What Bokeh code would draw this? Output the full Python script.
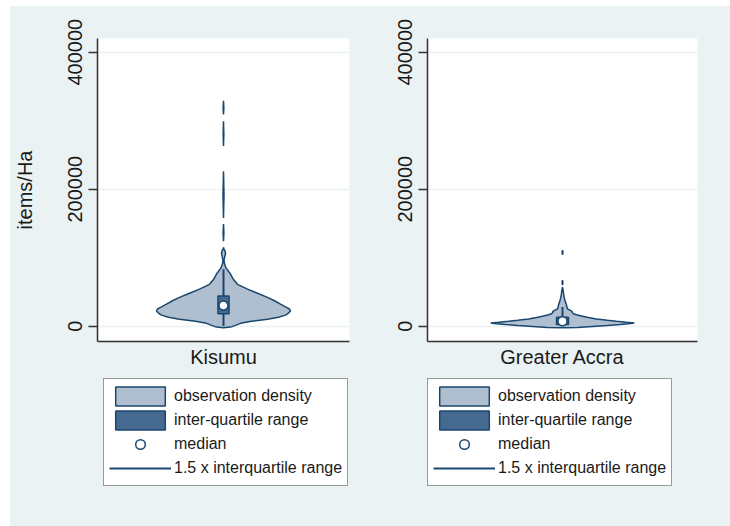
from bokeh.plotting import figure
from bokeh.models import FixedTicker, Legend, LegendItem
from bokeh.layouts import row, column
from bokeh.embed import file_html
from bokeh.resources import INLINE

# ---------------- data ----------------
categories = ["Kisumu", "Greater Accra"]
y_ticks = [0, 200000, 400000]
y_tick_labels = ["0", "200000", "400000"]
y_title = "items/Ha"
legend_labels = ["observation density", "inter-quartile range", "median",
                 "1.5 x interquartile range"]

# estimated kernel density outline (value, relative density)
kisumu_vals = [-2500, -1500, 1000, 4000, 7000, 10000, 13000, 16000, 19000, 22000,
               25000, 28000, 32000, 37000, 42000, 48000, 54000, 61000, 68000,
               76000, 85000, 91000, 96000, 101000, 106000, 110000, 113000, 115000]
kisumu_dens = [0, 7, 12, 17, 28, 44, 55, 62, 65, 67,
               66, 62, 57, 51, 44, 34, 24, 14, 10,
               7, 2.5, 1, 0.5, 1.2, 2, 1.4, 0.4, 0]
kisumu_tail_lo = [124000, 158000, 263000, 309000]
kisumu_tail_hi = [149000, 226000, 299000, 329000]
kisumu_tail_dens = [0.4, 0.5, 0.35, 0.35]

accra_vals = [-2500, -2000, -500, 1000, 2500, 3500, 4500, 5500, 7000, 8500,
              10500, 12500, 14500, 16500, 18000, 19500, 21500, 23000, 24500,
              27000, 31000, 35000, 40000, 46000, 52000, 57000]
accra_dens = [0, 15, 30, 45, 58, 66, 72, 64, 54, 45,
              34, 26, 20, 14, 11, 10, 9.5, 8, 5.5,
              4.5, 4, 3, 2, 1.2, 0.7, 0]
accra_tail_lo = [60000, 104000]
accra_tail_hi = [67000, 111000]
accra_tail_dens = [0.4, 0.4]

q1 = [18000, 2500]
q3 = [44000, 13000]
medians = [30000, 7000]
whisk_lo = [0, 0]
whisk_hi = [83000, 28000]

# ---------------- style ----------------
BG = "#eaf2f3"
NAVY = "#1a476f"
LIGHT = "#afbfcf"
DARK = "#466a8f"
AXIS = "#333333"
FONT = "Liberation Sans"
TXT = "#1a1a1a"
HALF = 0.266
BOXW = 0.022
CX = 0.5


def violin_poly(vals, dens):
    m = max(dens)
    xs = [CX + d / m * HALF for d in dens] + [CX - d / m * HALF for d in reversed(dens)]
    ys = list(vals) + list(reversed(vals))
    return xs, ys, m


def make_plot(i, vals, dens, tlo, thi, tden, width, left, right, show_title):
    p = figure(width=width, height=366, x_range=(0, 1), y_range=(-22500, 420000),
               output_backend="svg", toolbar_location=None,
               min_border_left=left, min_border_right=right,
               min_border_top=32, min_border_bottom=31,
               background_fill_color="white", border_fill_color=BG,
               outline_line_color=None)
    p.xgrid.visible = False
    p.ygrid.ticker = FixedTicker(ticks=y_ticks)
    p.ygrid.grid_line_color = BG
    p.ygrid.grid_line_width = 1.5

    ya = p.yaxis[0]
    ya.ticker = FixedTicker(ticks=y_ticks)
    ya.major_label_overrides = {t: l for t, l in zip(y_ticks, y_tick_labels)}
    ya.major_label_orientation = "vertical"
    ya.major_tick_out = 9
    ya.major_tick_in = 0
    ya.minor_tick_out = 0
    ya.minor_tick_in = 0
    ya.major_label_standoff = 6
    ya.major_label_text_font = FONT
    ya.major_label_text_font_size = "20px"
    ya.major_label_text_color = TXT
    ya.axis_line_color = AXIS
    ya.axis_line_width = 1.5
    ya.major_tick_line_color = AXIS
    ya.major_tick_line_width = 1.5
    if show_title:
        ya.axis_label = y_title
        ya.axis_label_text_font = FONT
        ya.axis_label_text_font_size = "20px"
        ya.axis_label_text_font_style = "normal"
        ya.axis_label_text_color = TXT
        ya.axis_label_standoff = 30

    xa = p.xaxis[0]
    xa.ticker = FixedTicker(ticks=[CX])
    xa.major_label_overrides = {CX: categories[i]}
    xa.major_tick_out = 0
    xa.major_tick_in = 0
    xa.minor_tick_out = 0
    xa.minor_tick_in = 0
    xa.major_label_standoff = 4
    xa.major_label_text_font = FONT
    xa.major_label_text_font_size = "20px"
    xa.major_label_text_color = TXT
    xa.axis_line_color = AXIS
    xa.axis_line_width = 1.5

    xs, ys, m = violin_poly(vals, dens)
    p.patch(xs, ys, fill_color=LIGHT, line_color=NAVY, line_width=1.5)
    txs, tys = [], []
    for lo, hi, d in zip(tlo, thi, tden):
        w = d / m * HALF
        mid = (lo + hi) / 2
        txs.append([CX, CX + w, CX, CX - w])
        tys.append([lo, mid, hi, mid])
    p.patches(txs, tys, fill_color=LIGHT, line_color=NAVY, line_width=1.5)

    p.segment(x0=[CX], y0=[whisk_lo[i]], x1=[CX], y1=[whisk_hi[i]],
              line_color=NAVY, line_width=2)
    p.quad(left=[CX - BOXW], right=[CX + BOXW], bottom=[q1[i]], top=[q3[i]],
           fill_color=DARK, line_color=NAVY, line_width=1.5)
    p.scatter([CX], [medians[i]], marker="circle", size=9, fill_color="white",
              line_color=NAVY, line_width=1.5)
    return p


def make_legend(width, leg_x):
    q = figure(width=width, height=160, x_range=(0, 1), y_range=(0, 1),
               x_axis_type=None, y_axis_type=None,
               output_backend="svg", toolbar_location=None, min_border=0,
               background_fill_color=BG, border_fill_color=BG,
               outline_line_color=None)
    # legend keys (placed outside the visible range; only their styles are shown)
    r_v = q.patch([5, 6, 6], [5, 5, 6], fill_color=LIGHT, line_color=NAVY, line_width=1.5)
    r_b = q.quad(left=[5], right=[6], bottom=[5], top=[6],
                 fill_color=DARK, line_color=NAVY, line_width=1.5)
    r_m = q.scatter([5], [5], marker="circle", size=9, fill_color="white",
                    line_color=NAVY, line_width=1.5)
    r_w = q.segment(x0=[5], y0=[5], x1=[6], y1=[5], line_color=NAVY, line_width=2)
    legend = Legend(items=[LegendItem(label=legend_labels[0], renderers=[r_v]),
                           LegendItem(label=legend_labels[1], renderers=[r_b]),
                           LegendItem(label=legend_labels[2], renderers=[r_m]),
                           LegendItem(label=legend_labels[3], renderers=[r_w])],
                    location=(leg_x, 46), orientation="vertical",
                    glyph_width=62, glyph_height=24, label_height=24,
                    spacing=0, padding=5, margin=0, label_standoff=3,
                    label_text_font=FONT, label_text_font_size="16px",
                    label_text_color=TXT,
                    border_line_color=AXIS, border_line_width=1.5,
                    background_fill_color="white", background_fill_alpha=1.0)
    q.add_layout(legend)
    return q


p1 = make_plot(0, kisumu_vals, kisumu_dens, kisumu_tail_lo, kisumu_tail_hi,
               kisumu_tail_dens, 360, 87, 21, True)
p2 = make_plot(1, accra_vals, accra_dens, accra_tail_lo, accra_tail_hi,
               accra_tail_dens, 360, 57, 33, False)
l1 = make_legend(360, 6)
l2 = make_legend(360, 0)

layout = row(column(p1, l1), column(p2, l2), margin=(6, 0, 0, 10),
             styles={"background-color": BG})
open("out.html", "w").write(file_html(layout, INLINE))
